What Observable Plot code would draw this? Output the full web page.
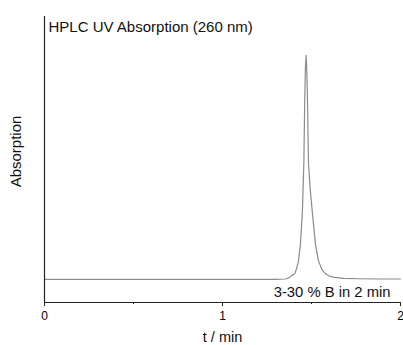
<!DOCTYPE html>
<html>
<head>
<meta charset="utf-8">
<script src="https://cdn.jsdelivr.net/npm/d3@7"></script>
<script src="https://cdn.jsdelivr.net/npm/@observablehq/plot@0.6"></script>
<style>
  html, body { margin: 0; padding: 0; background: #fff; }
  svg { display: block; }
</style>
</head>
<body>
<div id="chart"></div>
<script>
const titleText = "HPLC UV Absorption (260 nm)";
const noteText = "3-30 % B in 2 min";
const xLabel = "t / min";
const yLabel = "Absorption";
const majorTicks = [0, 1, 2];
const minorTicks = [0.5, 1.5];

const times = [0, 1.30, 1.355, 1.375, 1.388, 1.397, 1.405, 1.415, 1.427, 1.438, 1.449, 1.457, 1.462, 1.466, 1.470, 1.474, 1.4775, 1.483, 1.493, 1.504, 1.522, 1.539, 1.558, 1.579, 1.60, 1.63, 1.68, 1.76, 1.88, 2.0];
const absorb = [0, 0, 0.2, 0.8, 1.7, 2.1, 2.4, 4.5, 8.3, 15.9, 30.6, 52, 80, 95, 100, 92, 80, 52, 40, 30.6, 15.9, 8.3, 4.5, 2.5, 1.5, 0.9, 0.5, 0.3, 0.2, 0.2];

const data = times.map((t, i) => ({t, a: absorb[i]}));
const yMin = -10.3, yMax = 117.4;
const font = "'Liberation Sans', Arial, sans-serif";

const chart = Plot.plot({
  width: 403,
  height: 345,
  marginLeft: 44,
  marginRight: 3,
  marginTop: 16,
  marginBottom: 43,
  style: {fontFamily: font, background: "#fff", color: "#000"},
  x: {domain: [0, 2]},
  y: {domain: [yMin, yMax]},
  marks: [
    Plot.line(data, {x: "t", y: "a", stroke: "#8c8c8c", strokeWidth: 1.2}),
    Plot.ruleY([yMin], {stroke: "#222", strokeWidth: 1.2}),
    Plot.ruleX([0], {stroke: "#222", strokeWidth: 1.2}),
    Plot.axisX({ticks: majorTicks, tickSize: 4, tickPadding: 5, tickFormat: d => String(d), fontSize: 12, label: null, stroke: "#222"}),
    Plot.axisX({ticks: minorTicks, tickSize: 2, tickFormat: () => "", label: null, stroke: "#222"}),
    Plot.axisY({ticks: [], label: null}),
    Plot.text([xLabel], {frameAnchor: "bottom", lineAnchor: "middle", dy: 35, fontSize: 14.5, fill: "#111"}),
    Plot.text([yLabel], {frameAnchor: "left", textAnchor: "middle", lineAnchor: "middle", rotate: -90, dx: -28, dy: -8, fontSize: 15, fill: "#111"}),
    Plot.text([titleText], {frameAnchor: "top-left", textAnchor: "start", lineAnchor: "middle", dx: 4, dy: 10.5, fontSize: 15, fill: "#111"}),
    Plot.text([noteText], {frameAnchor: "bottom-right", textAnchor: "end", lineAnchor: "middle", dx: -10, dy: -10, fontSize: 14.8, fill: "#111"})
  ]
});
document.getElementById("chart").appendChild(chart);
</script>
</body>
</html>
